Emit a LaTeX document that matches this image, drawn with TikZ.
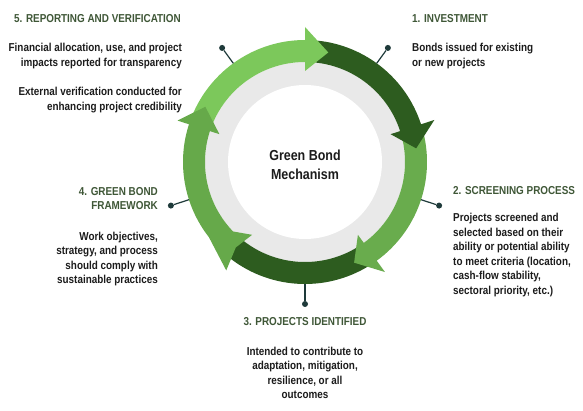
\documentclass[tikz,border=0pt]{standalone}
\usepackage{fontspec}
\setmainfont{Liberation Sans}[FakeStretch=0.86]
\definecolor{darkg}{HTML}{2D5C1F}
\definecolor{medg}{HTML}{69AC4D}
\definecolor{medg2}{HTML}{66A94A}
\definecolor{lightg}{HTML}{7CC85B}
\definecolor{ringgray}{HTML}{E9E9E9}
\definecolor{dotc}{HTML}{1E3A3A}
\definecolor{headc}{HTML}{3F5737}
\definecolor{bodyc}{HTML}{1C1C1C}
\begin{document}
\begin{tikzpicture}[x=1pt,y=1pt,
  lbl/.style={font=\fontsize{11.5}{14.5}\selectfont\bfseries, text=bodyc, inner sep=0pt},
  hd/.style={font=\fontsize{11.5}{14}\selectfont\bfseries, text=headc, inner sep=0pt},
  dot/.style={circle, fill=dotc, inner sep=0pt, minimum size=6pt},
  conn/.style={draw=dotc, line width=1.2pt}]
\useasboundingbox (0,0) rectangle (583,410);
\fill[white] (0,0) rectangle (583,410);
\begin{scope}[shift={(305,248)}]
 \fill[ringgray] (0,0) circle[radius=100pt];
 \fill[white] (0,0) circle[radius=77pt];
 % bottom dark
 \fill[darkg] (-58:122) arc[start angle=-58, end angle=-130, radius=122pt] -- (-130:100) arc[start angle=-130,end angle=-58,radius=100pt] -- cycle;
 % right medium
 \fill[medg] (14:122) arc[start angle=14,end angle=-54,radius=122pt] -- (-54:136) -- (-64:112) -- (-54:90) -- (-54:100) arc[start angle=-54,end angle=14,radius=100pt] -- cycle;
 % top dark
 \fill[darkg] (84:122) arc[start angle=84,end angle=18,radius=122pt] -- (18:136) -- (7:112) -- (18:90) -- (18:100) arc[start angle=18,end angle=84,radius=100pt] -- cycle;
 % light
 \fill[lightg] (158:122) arc[start angle=158,end angle=90,radius=122pt] -- (90:135) -- (78:112) -- (90:91) -- (90:100) arc[start angle=90,end angle=158,radius=100pt] -- cycle;
 % left medium
 \fill[medg2] (-126:134) -- (-142:122) arc[start angle=-142,end angle=-198,radius=122pt] -- (-198:134) -- (-209:114) -- (-198:90) -- (-198:100) arc[start angle=-198,end angle=-136,radius=100pt] -- (-126:90) -- (-129:110) -- cycle;
 % connectors
 \node[dot] (d1) at (54:141) {};
 \coordinate (r1) at (54:122);
 \node[dot] (d2) at (-18:141) {};
 \coordinate (r2) at (-18:122);
 \node[dot] (d3) at (-90:142) {};
 \coordinate (r3) at (-90:122);
 \node[dot] (d4) at (-162:141) {};
 \coordinate (r4) at (-162:122);
 \node[dot] (d5) at (126:141) {};
 \coordinate (r5) at (126:122);
 \draw[conn] (r1) -- (d1);
 \draw[conn] (r2) -- (d2);
 \draw[conn] (r3) -- (d3);
 \draw[conn] (r4) -- (d4);
 \draw[conn] (r5) -- (d5);
\end{scope}
\node[font=\fontsize{14.5}{18.3}\selectfont\bfseries, text=bodyc, anchor=north, align=center, inner sep=0pt] (ctr) at (305,260) {Green Bond\\Mechanism};
\node[hd, anchor=north east] (h5) at (181,396) {5. REPORTING AND VERIFICATION};
\node[lbl, anchor=north east, align=right] (t5a) at (182,366.7) {Financial allocation, use, and project\\impacts reported for transparency};
\node[lbl, anchor=north east, align=right] (t5b) at (182,322.7) {External verification conducted for\\enhancing project credibility};
\node[hd, anchor=north west] (h1) at (412,396) {1. INVESTMENT};
\node[lbl, anchor=north west, align=left] (t1) at (412,366.7) {Bonds issued for existing\\or new projects};
\node[hd, anchor=north east, align=right] (h4) at (158,222.3) {4. GREEN BOND\\FRAMEWORK};
\node[lbl, anchor=north east, align=right] (t4) at (158,178.3) {Work objectives,\\strategy, and process\\should comply with\\sustainable practices};
\node[hd, anchor=north west] (h2) at (453,223.3) {2. SCREENING PROCESS};
\node[lbl, anchor=north west, align=left] (t2) at (453,196.7) {Projects screened and\\selected based on their\\ability or potential ability\\to meet criteria (location,\\cash-flow stability,\\sectoral priority, etc.)};
\node[hd, anchor=north] (h3) at (305,92.3) {3. PROJECTS IDENTIFIED};
\node[lbl, anchor=north, align=center] (t3) at (305,63.3) {Intended to contribute to\\adaptation, mitigation,\\resilience, or all\\outcomes};
\end{tikzpicture}
\end{document}
